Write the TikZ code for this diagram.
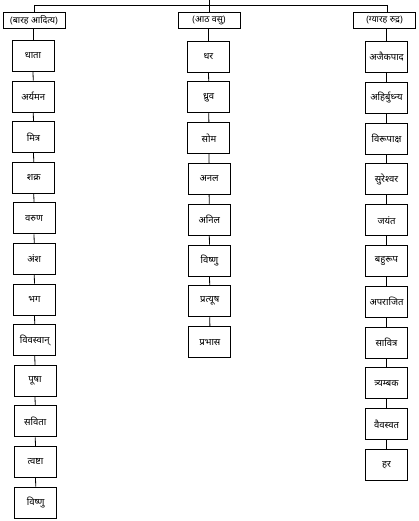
\documentclass[tikz,border=0pt]{standalone}
\usepackage{fontspec}
\newfontfamily\dev[Script=Devanagari]{Noto Sans}
\begin{document}
\begin{tikzpicture}[x=1pt,y=-1pt,
  box/.style={draw, line width=0.9pt, minimum width=42pt, minimum height=31pt, inner sep=1pt, font=\dev\fontsize{9.5}{11}\selectfont},
  head/.style={draw, line width=0.9pt, minimum width=62pt, minimum height=16pt, inner sep=1pt, font=\dev\fontsize{9}{10}\selectfont},
  link/.style={line width=0.8pt}]
\useasboundingbox (0,0) rectangle (419,521);
% headers
\node[head] (HL) at (34,20) {(बारह आदित्य)};
\node[head] (HM) at (209,20) {(आठ वसु)};
\node[head] (HR) at (384.5,20) {(ग्यारह रुद्र)};
\coordinate (top) at (209,0);
\coordinate (junc) at (209,5);
\coordinate (jl) at (34,5);
\coordinate (jr) at (387,5);
\draw[link] (top) -- (junc);
\draw[link] (jl) -- (jr);
\draw[link] (jl) -- (HL.north);
\draw[link] (junc) -- (HM.north);
\draw[link] (jr) -- (jr |- HR.north);
% left column
\foreach \t [count=\i] in {धाता,अर्यमन,मित्र,शक्र,वरुण,अंश,भग,विवस्वान्,पूषा,सविता,त्वष्टा,विष्णु}
  \node[box] (L\i) at ({33+0.25*(\i-1)},{56+40.6*(\i-1)}) {\t};
% middle column
\foreach \t [count=\i] in {धर,ध्रुव,सोम,अनल,अनिल,विष्णु,प्रत्यूष,प्रभास}
  \node[box] (M\i) at ({208.5+0.2*(\i-1)},{56.5+40.8*(\i-1)}) {\t};
% right column
\foreach \t [count=\i] in {अजैकपाद,अहिर्बुध्न्य,विरूपाक्ष,सुरेश्वर,जयंत,बहुरूप,अपराजित,सावित्र,त्र्यम्बक,वैवस्वत,हर}
  \node[box] (R\i) at (386.5,{57+40.8*(\i-1)}) {\t};
\draw[link] (HL.south -| L1.north) -- (L1.north);
\draw[link] (HM.south -| M1.north) -- (M1.north);
\draw[link] (HR.south -| R1.north) -- (R1.north);
\foreach \i in {1,...,11}{\pgfmathtruncatemacro\j{\i+1}\draw[link] (L\i.south) -- (L\j.north);}
\foreach \i in {1,...,7}{\pgfmathtruncatemacro\j{\i+1}\draw[link] (M\i.south) -- (M\j.north);}
\foreach \i in {1,...,10}{\pgfmathtruncatemacro\j{\i+1}\draw[link] (R\i.south) -- (R\j.north);}
\end{tikzpicture}
\end{document}
